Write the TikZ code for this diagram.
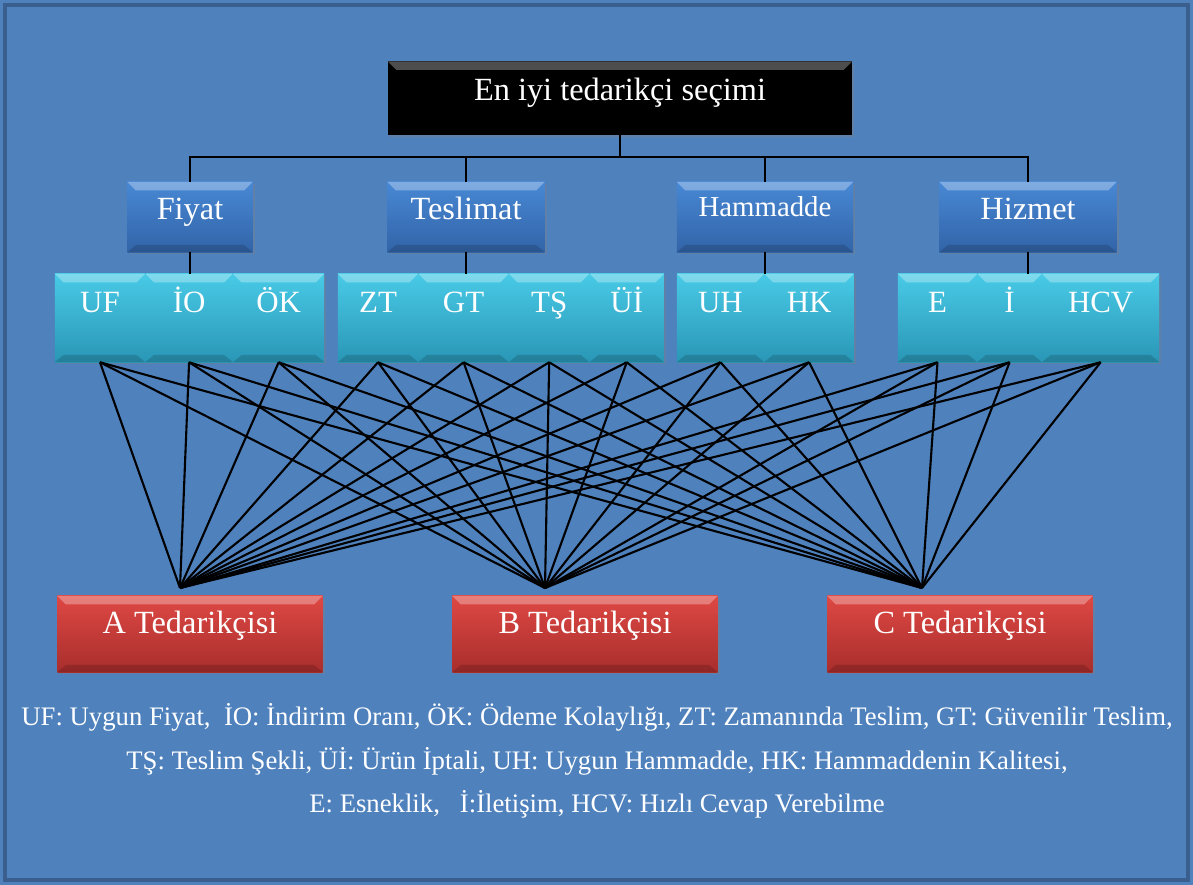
\documentclass[tikz,border=0pt]{standalone}
\usepackage{fontspec}
\setmainfont{Liberation Serif}
\usetikzlibrary{positioning,shadows}

\definecolor{bgblue}{RGB}{79,129,189}
\definecolor{frameblue}{RGB}{58,95,142}
\definecolor{critTop}{RGB}{72,136,212}
\definecolor{critBot}{RGB}{50,100,168}
\definecolor{subTop}{RGB}{72,202,230}
\definecolor{subBot}{RGB}{42,150,182}
\definecolor{supTop}{RGB}{222,72,68}
\definecolor{supBot}{RGB}{168,46,44}

\begin{document}
\begin{tikzpicture}[x=0.025cm, y=-0.025cm, node distance = 0cm,
box/.style={ rectangle, text = white, inner sep = 0pt,
  drop shadow = {opacity = 0.35, shadow xshift = 1.5pt, shadow yshift = -1.5pt},
  path picture = {
    \fill[white, opacity = 0.3] (path picture bounding box.north west) -- (path picture bounding box.north east)
      -- ([xshift = -6pt, yshift = -6pt]path picture bounding box.north east) -- ([xshift = 6pt, yshift = -6pt]path picture bounding box.north west) -- cycle;
    \fill[black, opacity = 0.15] (path picture bounding box.south west) -- (path picture bounding box.south east)
      -- ([xshift = -6pt, yshift = 5pt]path picture bounding box.south east) -- ([xshift = 6pt, yshift = 5pt]path picture bounding box.south west) -- cycle;
  } },
goal/.style={ box, fill = black, minimum width = 11.6cm, minimum height = 1.825cm,
  text height = 0.6cm, text depth = 0.48cm, font = \fontsize{23}{27}\selectfont },
crit/.style={ box, top color = critTop, bottom color = critBot, minimum height = 1.75cm,
  text height = 0.6cm, text depth = 0.48cm, font = \fontsize{23}{27}\selectfont },
sub/.style={ box, top color = subTop, bottom color = subBot, minimum height = 2.2cm,
  text height = 0.6cm, text depth = 0.88cm, font = \fontsize{22}{26}\selectfont },
sup/.style={ box, top color = supTop, bottom color = supBot, minimum width = 6.625cm, minimum height = 1.9cm,
  text height = 0.55cm, text depth = 0.55cm, font = \fontsize{23}{27}\selectfont },
link/.style={ draw, black, line width = 1.5pt }
]
\useasboundingbox (0,0) rectangle (1193,885);
\fill[bgblue] (0,0) rectangle (1193,885);
\draw[frameblue, line width = 3.5pt] (5,5) rectangle (1188,880);

%goal and criteria
\node (goal) [goal] at (620,98) {En iyi tedarikçi seçimi};
\node (fiyat) [crit, minimum width = 3.125cm] at (190,217) {Fiyat};
\node (teslimat) [crit, minimum width = 3.925cm] at (466,217) {Teslimat};
\node (hammadde) [crit, minimum width = 4.4cm, font = \fontsize{20.5}{24}\selectfont, text depth = 0.64cm] at (765,217) {Hammadde};
\node (hizmet) [crit, minimum width = 4.425cm] at (1028,217) {Hizmet};

%sub criteria
\node (uf) [sub, minimum width = 2.25cm] at (100,318) {UF};
\node (io) [sub, minimum width = 2.175cm, right = of uf] {İO};
\node (ok) [sub, minimum width = 2.275cm, right = of io] {ÖK};
\node (zt) [sub, minimum width = 2cm] at (378,318) {ZT};
\node (gt) [sub, minimum width = 2.25cm, right = of zt] {GT};
\node (ts) [sub, minimum width = 2cm, right = of gt] {TŞ};
\node (ui) [sub, minimum width = 1.85cm, right = of ts] {Üİ};
\node (uh) [sub, minimum width = 2.175cm] at (720.5,318) {UH};
\node (hk) [sub, minimum width = 2.225cm, right = of uh] {HK};
\node (e) [sub, minimum width = 1.975cm] at (937.5,318) {E};
\node (i) [sub, minimum width = 1.6cm, right = of e] {İ};
\node (hcv) [sub, minimum width = 2.925cm, right = of i] {HCV};

%suppliers
\node (A) [sup] at (190,634) {A Tedarikçisi};
\node (B) [sup] at (585,634) {B Tedarikçisi};
\node (C) [sup] at (960,634) {C Tedarikçisi};
\coordinate (pA) at (180,588);
\coordinate (pB) at (545,588);
\coordinate (pC) at (922,588);

%tree lines
\coordinate (bus) at (620,157);
\draw [link] (goal.south) -- (bus);
\foreach \c in {fiyat, teslimat, hammadde, hizmet}
	\draw [link] (bus) -| (\c.north);
\draw [link] (fiyat.south) -- (fiyat.south |- io.north);
\draw [link] (teslimat.south) -- (teslimat.south |- gt.north);
\draw [link] (hammadde.south) -- (hammadde.south |- uh.north);
\draw [link] (hizmet.south) -- (hizmet.south |- i.north);
\foreach \s in {uf, io, ok, zt, gt, ts, ui, uh, hk, e, i, hcv}
	\foreach \t in {pA, pB, pC}
		\draw [link] (\s.south) -- (\t);

%legend
\node (legend) [text = white, align = center, font = \fontsize{19}{31}\selectfont] at (597,761)
	{UF: Uygun Fiyat, \ İO: İndirim Oranı, ÖK: Ödeme Kolaylığı, ZT: Zamanında Teslim, GT: Güvenilir Teslim,\\
	 TŞ: Teslim Şekli, Üİ: Ürün İptali, UH: Uygun Hammadde, HK: Hammaddenin Kalitesi,\\
	 E: Esneklik, \ \ İ:İletişim, HCV: Hızlı Cevap Verebilme};
\end{tikzpicture}
\end{document}
